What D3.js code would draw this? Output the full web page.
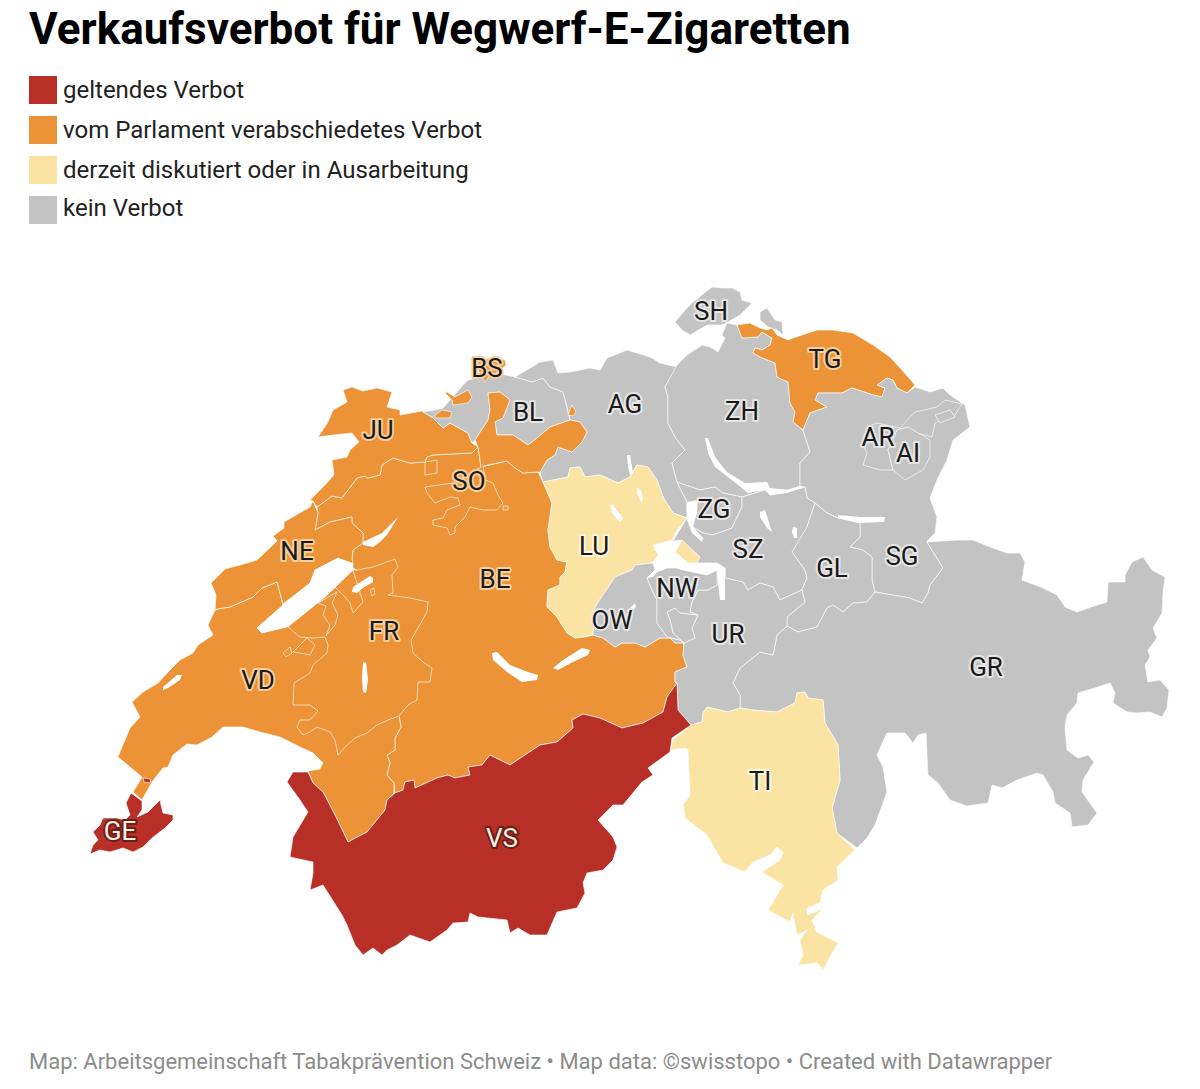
<!DOCTYPE html>
<html lang="de">
<head>
<meta charset="utf-8">
<title>Verkaufsverbot für Wegwerf-E-Zigaretten</title>
<script src="https://cdn.jsdelivr.net/npm/d3@7"></script>
<style>
    body { margin: 0; background: #fff; font-family: Roboto, sans-serif; }
</style>
</head>
<body>
<script>
const width = 1200;
const height = 1089;

const titleText = 'Verkaufsverbot für Wegwerf-E-Zigaretten';
const footerText = 'Map: Arbeitsgemeinschaft Tabakprävention Schweiz • Map data: ©swisstopo • Created with Datawrapper';

const statusKeys = ['ban', 'passed', 'debated', 'none'];
const statusLabels = ['geltendes Verbot', 'vom Parlament verabschiedetes Verbot', 'derzeit diskutiert oder in Ausarbeitung', 'kein Verbot'];
const statusColors = ['#b72f26', '#eb9336', '#fbe3a3', '#c3c3c3'];
const haloColors = ['#6b1f1a', '#f6cf9f', '#fff6dc', '#e6e6e6'];
const textColors = ['#fdf1e0', '#1a1a1a', '#1a1a1a', '#1a1a1a'];

// Canton outlines in map units
const outlineBE = [[317,507],[332,496],[342,498],[357,478],[365,476],[368,478],[380,475],[382,465],[393,458],[410,463],[425,462],[427,457],[433,455],[472,453],[478,447],[481,467],[507,461],[515,468],[523,473],[538,472],[543,482],[552,503],[548,530],[550,547],[557,560],[567,562],[565,572],[560,577],[560,585],[548,590],[547,607],[557,617],[567,633],[575,638],[585,637],[593,635],[603,638],[615,647],[622,643],[635,643],[645,647],[660,638],[670,638],[675,643],[684,643],[683,655],[687,667],[675,672],[675,682],[677,683],[667,697],[663,712],[643,723],[622,728],[600,718],[583,714],[572,720],[573,728],[557,742],[540,745],[510,765],[490,755],[482,765],[468,767],[470,775],[455,778],[448,775],[437,778],[415,788],[414,780],[405,782],[403,790],[395,793],[394,783],[387,775],[390,763],[387,755],[395,750],[395,738],[401,727],[399,716],[380,650],[357,570],[353,568],[352,558],[353,550],[363,543],[363,533],[352,523],[352,517],[330,522],[315,530],[318,513]];
const outlineVD = [[215,610],[208,625],[213,635],[198,645],[193,653],[180,660],[170,670],[158,683],[143,692],[132,702],[140,717],[130,728],[125,740],[122,747],[118,757],[142,777],[133,792],[142,800],[152,782],[163,768],[168,767],[173,755],[187,744],[197,745],[212,737],[223,727],[243,727],[260,732],[280,737],[300,747],[313,753],[323,763],[320,769],[308,771],[313,783],[323,792],[335,815],[348,842],[367,832],[385,810],[387,800],[394,793],[394,783],[387,775],[390,763],[387,755],[395,750],[395,738],[401,727],[399,716],[360,640],[325,597],[287,627],[262,633],[257,628],[283,605],[280,593],[277,582],[262,588],[253,597],[230,607],[217,609]];
const outlineNE = [[215,610],[216,595],[211,583],[225,569],[247,563],[257,560],[277,541],[273,536],[284,528],[284,522],[310,507],[313,501],[318,513],[315,530],[330,522],[352,517],[352,523],[363,533],[363,543],[353,550],[352,558],[353,565],[338,558],[315,570],[310,583],[283,604],[280,593],[277,582],[262,588],[253,597],[230,607],[217,609]];
const outlineJU = [[343,390],[352,387],[363,391],[377,388],[392,392],[387,407],[400,410],[400,415],[422,411],[433,418],[443,428],[450,423],[468,433],[472,443],[478,447],[472,453],[433,455],[427,457],[425,462],[410,463],[393,458],[382,465],[380,475],[368,478],[365,476],[357,478],[342,498],[332,496],[317,507],[313,501],[310,500],[325,485],[334,475],[332,460],[347,457],[350,450],[359,442],[352,433],[333,435],[318,437],[328,422],[333,410],[347,402]];
const outlineSO = [[475,440],[488,420],[490,410],[488,393],[500,392],[510,400],[503,418],[495,422],[497,435],[513,435],[528,445],[537,438],[550,427],[570,420],[580,422],[587,432],[582,442],[572,452],[558,447],[555,455],[547,460],[540,472],[538,472],[523,473],[515,468],[507,461],[483,466],[485,480],[493,483],[498,495],[503,503],[497,510],[483,510],[470,507],[465,517],[455,527],[455,533],[450,535],[447,528],[433,525],[433,520],[443,518],[447,510],[460,505],[458,498],[450,497],[435,503],[427,493],[425,487],[453,483],[481,467],[478,447]];
const outlineSOa = [[447,392],[455,397],[468,390],[472,397],[468,403],[453,405],[452,400],[445,393]];
const outlineSOb = [[435,415],[442,410],[452,412],[450,418],[435,418]];
const outlineSOc = [[568,415],[572,405],[576,412],[573,416]];
const outlineSOd = [[425,462],[437,460],[437,473],[425,475]];
const outlineSOe = [[503,506],[508,506],[508,510],[503,510]];
const outlineFR = [[357,570],[373,567],[395,559],[398,567],[392,575],[393,593],[388,595],[410,598],[428,602],[427,612],[418,628],[411,640],[413,653],[423,662],[432,668],[430,682],[418,682],[417,700],[408,705],[399,716],[388,720],[377,725],[367,733],[355,738],[345,747],[338,755],[335,740],[330,732],[317,727],[310,732],[303,735],[297,727],[300,720],[310,720],[318,711],[310,705],[293,705],[294,683],[310,673],[313,665],[327,653],[328,645],[325,637],[313,638],[300,637],[288,627],[325,597],[353,570]];
const outlineFRa = [[283,653],[290,647],[292,653],[286,657]];
const outlineFRb = [[293,652],[307,638],[315,645],[310,655],[300,653]];
const outlineFRc = [[318,603],[326,606],[323,615],[330,625],[326,636],[335,625],[338,615],[332,603],[337,592]];
const outlineFRd = [[370,590],[374,588],[375,594],[372,596]];
const outlineFRe = [[325,597],[335,587],[345,597],[350,603],[353,613],[363,602],[357,583],[353,570]];
const outlineLU = [[543,482],[568,477],[570,468],[580,467],[585,477],[600,475],[618,483],[630,477],[637,465],[648,467],[657,480],[663,497],[673,513],[687,518],[677,530],[672,540],[653,545],[660,553],[652,563],[635,565],[632,570],[615,577],[603,595],[595,607],[593,635],[575,638],[567,633],[557,617],[547,607],[548,590],[560,585],[560,577],[565,572],[567,562],[557,560],[550,547],[548,530],[552,503]];
const outlineLUa = [[682,540],[700,557],[697,563],[688,563],[675,552]];
const outlineBL = [[423,412],[433,418],[443,428],[450,423],[468,433],[472,443],[475,440],[488,420],[490,410],[488,393],[500,392],[510,400],[503,418],[495,422],[497,435],[513,435],[528,445],[537,438],[550,427],[570,420],[567,407],[563,392],[550,387],[543,378],[532,382],[515,377],[497,373],[468,380],[463,385],[443,408],[435,410]];
const outlineBS = [[478,362],[490,358],[505,360],[506,365],[498,372],[490,375],[485,382],[482,376],[478,370]];
const outlineAG = [[515,377],[540,362],[553,360],[558,373],[570,372],[590,368],[600,370],[607,358],[627,350],[637,353],[650,357],[660,363],[677,367],[665,387],[668,397],[668,423],[675,437],[685,450],[672,463],[677,482],[687,502],[687,518],[673,513],[663,497],[657,480],[648,467],[637,465],[630,477],[618,483],[600,475],[585,477],[580,467],[570,468],[568,477],[543,482],[540,472],[547,460],[555,455],[558,447],[572,452],[582,442],[587,432],[580,422],[570,420],[567,407],[563,392],[550,387],[543,378],[532,382]];
const outlineZH = [[677,365],[687,355],[702,345],[710,347],[718,352],[725,338],[722,335],[727,323],[737,325],[742,338],[758,337],[762,332],[772,338],[770,345],[762,350],[755,348],[753,353],[760,357],[775,363],[777,377],[788,382],[790,403],[795,412],[793,422],[803,430],[810,452],[800,463],[800,472],[800,486],[788,490],[765,490],[742,497],[723,493],[715,487],[700,490],[677,482],[672,463],[685,450],[675,437],[668,423],[668,397],[665,387]];
const outlineSH = [[675,322],[685,310],[693,302],[712,287],[723,288],[732,288],[740,292],[742,300],[752,303],[740,315],[728,322],[722,325],[707,325],[690,335],[682,330]];
const outlineSHa = [[760,312],[767,308],[775,320],[782,322],[783,335],[777,330],[768,327],[760,320]];
const outlineTG = [[737,325],[750,323],[760,328],[767,330],[772,328],[777,335],[788,340],[793,338],[817,330],[833,330],[853,333],[873,345],[890,357],[902,370],[915,385],[907,393],[897,388],[893,380],[887,378],[877,385],[885,388],[882,397],[873,395],[852,388],[842,393],[818,393],[815,400],[827,407],[810,413],[803,430],[793,422],[795,412],[790,403],[788,382],[777,377],[775,363],[760,357],[753,353],[755,348],[762,350],[770,345],[772,338],[762,332],[758,337],[742,338]];
const outlineTGa = [[918,388],[923,389],[922,391]];
const outlineSG = [[803,430],[810,413],[827,407],[815,400],[818,393],[842,393],[852,388],[873,395],[882,397],[885,388],[877,385],[887,378],[893,380],[897,388],[907,393],[915,387],[930,392],[943,388],[950,395],[965,405],[970,427],[953,440],[947,460],[937,480],[930,498],[937,517],[935,533],[928,540],[927,542],[943,568],[930,585],[928,593],[922,603],[910,598],[875,592],[872,580],[872,557],[863,550],[850,547],[860,537],[860,523],[838,518],[827,513],[815,503],[807,498],[805,487],[800,486],[800,472],[800,463],[810,452]];
const outlineAR = [[867,427],[877,423],[900,428],[915,412],[937,407],[945,400],[962,404],[955,415],[935,423],[932,437],[917,433],[908,427],[897,430],[888,450],[893,470],[880,470],[863,465],[867,453],[862,443]];
const outlineAI = [[897,430],[908,427],[930,440],[930,457],[923,470],[905,480],[893,470],[888,450]];
const outlineAIa = [[935,415],[950,410],[955,417],[940,423]];
const outlineZG = [[677,482],[700,490],[715,487],[723,493],[742,497],[742,507],[737,517],[732,528],[713,535],[703,533],[693,527],[687,518],[687,502]];
const outlineSZ = [[742,497],[765,490],[770,495],[785,493],[805,487],[807,498],[815,503],[807,527],[803,535],[792,552],[805,570],[807,578],[802,590],[780,600],[773,587],[760,583],[748,590],[743,582],[725,578],[725,568],[717,563],[700,563],[697,563],[700,557],[682,540],[673,541],[687,518],[693,527],[703,533],[713,535],[732,528],[737,517],[742,507]];
const outlineGL = [[815,503],[827,513],[838,518],[860,523],[860,537],[850,547],[863,550],[872,557],[872,580],[875,592],[867,602],[853,603],[843,612],[833,605],[827,608],[817,627],[798,632],[787,626],[787,617],[805,602],[802,590],[807,578],[805,570],[792,552],[807,527]];
const outlineUR = [[725,578],[743,582],[748,590],[760,583],[773,587],[780,600],[802,590],[805,602],[787,617],[787,626],[777,635],[773,655],[760,652],[740,668],[733,683],[740,695],[740,708],[728,712],[707,707],[703,713],[702,722],[691,725],[678,710],[677,683],[675,682],[675,672],[687,667],[683,655],[684,643],[695,638],[692,628],[698,615],[690,612],[692,602],[698,590],[708,590],[717,585],[717,570],[725,568]];
const outlineOW = [[593,635],[595,607],[603,595],[615,577],[632,570],[635,565],[653,563],[655,570],[647,578],[652,590],[657,600],[657,623],[667,637],[680,640],[684,643],[675,643],[670,638],[660,638],[645,647],[635,643],[622,643],[615,647],[603,638]];
const outlineOWa = [[667,612],[675,608],[680,613],[698,615],[692,628],[695,638],[684,643],[673,633],[670,620]];
const outlineNW = [[647,578],[657,572],[667,568],[677,568],[683,570],[693,572],[707,575],[717,570],[717,585],[708,590],[698,590],[692,602],[690,612],[698,615],[680,613],[675,608],[667,612],[670,620],[673,633],[684,643],[680,640],[667,637],[657,623],[657,600],[652,590]];
const outlineGR = [[927,542],[957,540],[973,540],[990,547],[1007,553],[1020,553],[1025,562],[1022,580],[1043,588],[1057,595],[1065,607],[1077,612],[1097,605],[1107,602],[1108,582],[1125,582],[1125,575],[1132,562],[1143,557],[1152,570],[1165,577],[1163,593],[1162,613],[1153,628],[1157,638],[1148,650],[1150,657],[1145,665],[1148,682],[1160,680],[1169,690],[1167,708],[1162,717],[1150,712],[1137,713],[1127,712],[1113,703],[1115,693],[1110,683],[1098,687],[1078,693],[1077,703],[1067,715],[1065,727],[1067,750],[1078,758],[1088,755],[1094,762],[1083,780],[1082,792],[1097,813],[1088,825],[1072,827],[1070,813],[1055,803],[1053,792],[1043,775],[1037,773],[1017,780],[1002,788],[992,785],[988,803],[967,806],[950,800],[938,783],[928,775],[926,733],[918,735],[913,743],[905,733],[887,733],[877,755],[883,767],[887,792],[875,825],[867,838],[857,848],[837,833],[832,808],[840,780],[838,745],[825,723],[823,700],[808,698],[805,692],[797,693],[795,703],[777,712],[752,710],[740,708],[740,695],[733,683],[740,668],[760,652],[773,655],[777,635],[787,626],[798,632],[817,627],[827,608],[833,605],[843,612],[853,603],[867,602],[875,592],[910,598],[922,603],[928,593],[930,585],[943,568]];
const outlineTI = [[703,713],[707,707],[728,712],[740,708],[752,710],[777,712],[795,703],[797,693],[805,692],[808,698],[823,700],[825,723],[838,745],[840,780],[832,808],[837,833],[855,850],[837,867],[838,880],[823,890],[820,903],[807,908],[807,915],[823,909],[812,920],[817,932],[838,943],[830,957],[823,970],[817,963],[798,965],[803,955],[800,940],[807,930],[797,935],[793,913],[790,922],[768,910],[783,885],[762,872],[780,860],[783,852],[777,847],[770,855],[753,862],[745,872],[723,863],[707,835],[685,818],[683,805],[690,795],[688,750],[685,748],[670,750],[673,740],[691,725],[702,722]];
const outlineVS = [[287,782],[293,772],[308,772],[313,783],[323,792],[335,815],[348,842],[367,832],[385,810],[387,800],[395,793],[403,790],[405,782],[414,780],[415,788],[437,778],[448,775],[455,778],[470,775],[468,767],[482,765],[490,755],[510,765],[540,745],[557,742],[573,728],[572,720],[583,714],[600,718],[622,728],[643,723],[663,712],[667,697],[677,683],[678,710],[691,725],[672,738],[670,752],[648,768],[653,775],[642,782],[623,805],[613,805],[598,820],[613,837],[617,847],[613,860],[603,870],[587,873],[583,883],[585,893],[577,908],[557,912],[547,935],[530,935],[518,928],[510,933],[507,920],[478,917],[470,913],[468,922],[453,923],[447,930],[430,942],[410,935],[397,945],[387,950],[382,955],[373,948],[363,955],[355,945],[347,925],[342,915],[323,885],[310,890],[313,873],[313,862],[290,857],[293,837],[308,812],[300,800]];
const outlineGE = [[131,793],[142,801],[142,810],[137,817],[148,812],[160,800],[161,805],[163,813],[173,815],[173,820],[165,828],[152,838],[143,847],[133,852],[123,848],[110,852],[100,850],[90,854],[93,845],[98,840],[93,832],[100,825],[103,818],[117,818],[125,820],[130,815],[126,803]];
const outlineGEa = [[143,778],[150,779],[151,783],[144,782]];

// Lakes, painted white over the cantons
const lakeNeuchatel = [[353,563],[338,558],[315,570],[310,583],[283,605],[257,628],[262,633],[287,627],[325,597],[353,570]];
const lakeBiel = [[398,517],[382,533],[363,542],[363,545],[373,547],[380,542],[387,535]];
const lakeMurten = [[373,578],[370,576],[353,587],[352,592],[357,593],[363,588],[373,582]];
const lakeJoux = [[182,675],[177,675],[163,687],[163,690],[168,688],[180,680]];
const lakeGruyere = [[363,663],[366,662],[367,670],[368,680],[366,693],[363,692],[362,677]];
const lakeThun = [[492,653],[497,652],[510,665],[528,672],[538,675],[537,680],[522,682],[507,672],[493,660]];
const lakeBrienz = [[582,648],[590,650],[588,655],[573,662],[558,670],[553,668],[563,660]];
const lakeSempach = [[610,505],[613,505],[623,518],[620,522],[612,513]];
const lakeBaldegg = [[637,488],[641,490],[643,500],[641,502],[637,493]];
const lakeHallwil = [[627,455],[630,455],[633,473],[630,475],[628,467]];
const lakeLucerne = [[653,547],[663,553],[675,542],[680,541],[673,552],[667,563],[678,563],[688,565],[700,563],[717,563],[725,568],[725,590],[725,600],[720,600],[718,583],[717,570],[707,575],[693,572],[683,570],[677,568],[667,568],[657,572],[653,577],[647,578],[655,570],[653,563],[660,557],[655,550]];
const lakeSarnen = [[635,603],[636,607],[628,615],[625,618],[628,610]];
const lakeZug = [[687,502],[698,500],[697,513],[693,527],[703,538],[702,542],[692,533],[687,520]];
const lakeAegeri = [[760,512],[765,510],[772,532],[767,528],[760,517]];
const lakeZurich = [[705,438],[708,438],[715,457],[727,472],[745,483],[767,482],[770,488],[788,490],[800,486],[802,488],[785,493],[770,495],[765,490],[748,493],[732,480],[715,467],[708,453]];
const lakeWalen = [[838,515],[860,517],[885,517],[884,522],[860,523],[838,518]];
const lakeSihl = [[793,527],[797,528],[797,538],[794,538],[792,532]];

const cantonCodes = ['BE', 'VD', 'NE', 'JU', 'BL', 'AG', 'SO', 'FR', 'LU', 'BS', 'ZH', 'SH', 'TG', 'SG', 'AR', 'AI', 'ZG', 'SZ', 'GL', 'GR', 'UR', 'OW', 'NW', 'TI', 'VS', 'GE'];
const cantonStatus = ['passed', 'passed', 'passed', 'passed', 'none', 'none', 'passed', 'passed', 'debated', 'passed', 'none', 'none', 'passed', 'none', 'none', 'none', 'none', 'none', 'none', 'none', 'none', 'none', 'none', 'debated', 'ban', 'ban'];
const cantonRings = [[outlineBE], [outlineVD], [outlineNE], [outlineJU], [outlineBL], [outlineAG], [outlineSO, outlineSOa, outlineSOb, outlineSOc, outlineSOd, outlineSOe], [outlineFR, outlineFRa, outlineFRb, outlineFRc, outlineFRd, outlineFRe], [outlineLU, outlineLUa], [outlineBS], [outlineZH], [outlineSH, outlineSHa], [outlineTG, outlineTGa], [outlineSG], [outlineAR], [outlineAI, outlineAIa], [outlineZG], [outlineSZ], [outlineGL], [outlineGR], [outlineUR], [outlineOW, outlineOWa], [outlineNW], [outlineTI], [outlineVS], [outlineGE, outlineGEa]];
const labelAnchors = [[495,579], [258,680], [297,551], [378,430], [528,412], [625,404], [469,481], [384,631], [594,546], [487,368], [742,411], [711,311], [825,359], [902,556], [878,437], [908,453], [714,509], [748,549], [832,568], [986,667], [728,634], [612,620], [677,588], [760,781], [502,838], [120,831]];
const lakes = [lakeNeuchatel, lakeBiel, lakeMurten, lakeJoux, lakeGruyere, lakeThun, lakeBrienz, lakeSempach, lakeBaldegg, lakeHallwil, lakeLucerne, lakeSarnen, lakeZug, lakeAegeri, lakeZurich, lakeWalen, lakeSihl];

const closeRing = ring => [...ring, ring[0]];

const cantons = cantonCodes.map((code, i) => ({
    type: 'Feature',
    properties: { code: code, status: cantonStatus[i], anchor: labelAnchors[i] },
    geometry: { type: 'MultiPolygon', coordinates: cantonRings[i].map(ring => [closeRing(ring)]) }
}));

// One path per part, so overlapping parts of a canton don't cancel each other out
const cantonParts = cantons.flatMap(canton => canton.geometry.coordinates.map(polygon => ({
    type: 'Feature',
    properties: canton.properties,
    geometry: { type: 'Polygon', coordinates: polygon }
})));

const lakeFeatures = lakes.map(ring => ({
    type: 'Feature',
    geometry: { type: 'Polygon', coordinates: [closeRing(ring)] }
}));

const statusColor = d3.scaleOrdinal(statusKeys, statusColors);
const haloColor = d3.scaleOrdinal(statusKeys, haloColors);
const textColor = d3.scaleOrdinal(statusKeys, textColors);

const svg = d3.select('body')
    .append('svg')
    .attr('width', width)
    .attr('height', height)
    .style('display', 'block');

// Title
svg.append('text')
    .attr('x', 29)
    .attr('y', 44)
    .attr('font-size', 44)
    .attr('font-weight', 700)
    .attr('fill', '#000')
    .text(titleText);

// Legend
const legendY = d3.scaleOrdinal(statusKeys, [76, 116, 156, 196]);

const legend = svg.append('g')
    .selectAll('g')
    .data(statusKeys)
    .join('g')
    .attr('transform', d => `translate(29,${legendY(d)})`);

legend.append('rect')
    .attr('width', 28)
    .attr('height', 28)
    .attr('fill', d => statusColor(d));

legend.append('text')
    .attr('x', 34)
    .attr('y', (d, i) => i === 3 ? 20 : 22)
    .attr('font-size', 24)
    .attr('fill', '#222')
    .text((d, i) => statusLabels[i]);

// Map
const projection = d3.geoIdentity()
    .fitExtent([[90, 287], [1169, 970]], { type: 'FeatureCollection', features: cantons });
const path = d3.geoPath(projection);

svg.append('g')
    .selectAll('path')
    .data(cantonParts)
    .join('path')
    .attr('d', path)
    .attr('fill', d => statusColor(d.properties.status))
    .attr('stroke', '#fff')
    .attr('stroke-opacity', 0.7)
    .attr('stroke-width', 0.9)
    .attr('stroke-linejoin', 'round');

svg.append('g')
    .selectAll('path')
    .data(lakeFeatures)
    .join('path')
    .attr('d', path)
    .attr('fill', '#fff');

// Canton labels
svg.append('g')
    .selectAll('text')
    .data(cantons)
    .join('text')
    .attr('x', d => projection(d.properties.anchor)[0])
    .attr('y', d => projection(d.properties.anchor)[1])
    .attr('dy', '0.36em')
    .attr('text-anchor', 'middle')
    .attr('font-size', 26)
    .attr('fill', d => textColor(d.properties.status))
    .attr('stroke', d => haloColor(d.properties.status))
    .attr('stroke-width', 4)
    .attr('stroke-linejoin', 'round')
    .attr('paint-order', 'stroke')
    .text(d => d.properties.code);

// Footer
svg.append('text')
    .attr('x', 29)
    .attr('y', 1069)
    .attr('font-size', 22)
    .attr('fill', '#8c8c8c')
    .text(footerText);
</script>
</body>
</html>
